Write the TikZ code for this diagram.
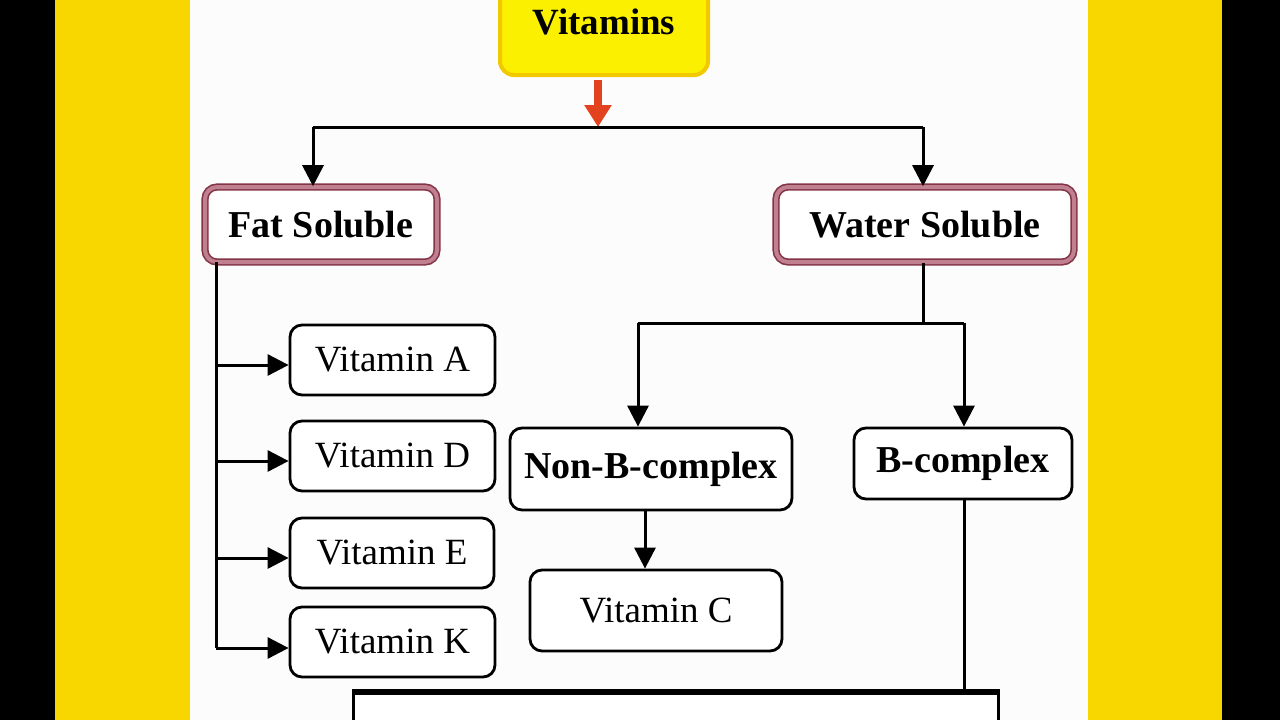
\documentclass[tikz,border=0pt]{standalone}
\usepackage{fontspec}
\setmainfont{Liberation Serif}
\usetikzlibrary{arrows.meta}
\definecolor{bandyellow}{HTML}{F8D600}
\definecolor{boxyellow}{HTML}{FAF000}
\definecolor{boxgold}{HTML}{F2C800}
\definecolor{maroon}{HTML}{833548}
\definecolor{pinkfill}{HTML}{C0808F}
\definecolor{redarrow}{HTML}{E2431E}
\tikzset{
  arr/.style={line width=3pt, -{Triangle[width=21pt,length=21pt]}},
  conn/.style={line width=3pt},
  leafbox/.style={draw=black, line width=2.8pt, rounded corners=12pt, fill=white,
    font=\fontsize{37}{40}\selectfont, inner sep=0pt},
  catbox/.style={draw=black, line width=2.8pt, rounded corners=12pt, fill=white,
    font=\fontsize{38}{40}\selectfont\bfseries, inner sep=0pt},
  solbox/.style={draw=maroon, double=pinkfill, double distance=4pt, line width=1.6pt,
    rounded corners=12pt, fill=white, font=\fontsize{38}{40}\selectfont\bfseries, inner sep=0pt},
}
\begin{document}
\begin{tikzpicture}[x=1pt,y=-1pt]
\useasboundingbox (0,0) rectangle (1280,720);
\clip (0,0) rectangle (1280,720);
% background bands
\fill[black] (0,0) rectangle (1280,720);
\fill[bandyellow] (55,0) rectangle (1222,720);
\fill[white!98!gray] (190,0) rectangle (1088,720);

% nodes
\node[draw=boxgold, line width=4pt, fill=boxyellow, rounded corners=14pt,
  minimum width=208pt, minimum height=105pt, inner sep=0pt] (vit) at (604,22.5) {};
\node[font=\fontsize{37}{40}\selectfont\bfseries] (vittxt) at (604,22) {Vitamins};

\node[solbox, minimum width=232pt, minimum height=75pt] (fs) at (321,224.5) {Fat Soluble};
\node[solbox, minimum width=298pt, minimum height=75pt] (ws) at (925,224.5) {Water Soluble};

\node[leafbox, minimum width=205pt, minimum height=70pt] (va) at (392.5,360) {Vitamin A};
\node[leafbox, minimum width=205pt, minimum height=70pt] (vd) at (392.5,456) {Vitamin D};
\node[leafbox, minimum width=204pt, minimum height=70pt] (ve) at (392,553) {Vitamin E};
\node[leafbox, minimum width=205pt, minimum height=70pt] (vk) at (392.5,642) {Vitamin K};

\node[catbox, minimum width=282pt, minimum height=82pt] (nonb) at (651,469) {Non-B-complex};
\node[catbox, minimum width=218pt, minimum height=71pt] (bc) at (963,463.5) {B-complex};
\node[leafbox, minimum width=252pt, minimum height=81pt] (vitc) at (656,610.5) {Vitamin C};

\node[draw=black, line width=3pt, fill=white, minimum width=645pt, minimum height=67pt,
  inner sep=0pt] (bottom) at (675.5,726.5) {};
\draw[line width=5pt] (bottom.north west) -- (bottom.north east);

% red arrow
\coordinate (j) at (598,127);
\draw[redarrow, line width=8pt, -{Triangle[width=26pt,length=22pt]}] (598,80) -- (j);

% top split
\coordinate (jl) at (313,127);
\coordinate (jr) at (923,127);
\draw[conn] (jl) -- (jr);
\draw[arr] (jl) -- (jl |- fs.north);
\draw[arr] (jr) -- (jr |- ws.north);

% fat soluble branch
\coordinate (fl) at (216,262);
\coordinate (fe) at (216,648);
\draw[conn] (fl) -- (fe);
\draw[arr] ([yshift=-5pt]fl |- va.west) -- ([yshift=-5pt]va.west);
\draw[arr] ([yshift=-5pt]fl |- vd.west) -- ([yshift=-5pt]vd.west);
\draw[arr] ([yshift=-5pt]fl |- ve.west) -- ([yshift=-5pt]ve.west);
\draw[arr] ([yshift=-6pt]fl |- vk.west) -- ([yshift=-6pt]vk.west);

% water soluble branch
\coordinate (wj) at (923,323);
\coordinate (wl) at (638,323);
\coordinate (wr) at (964,323);
\draw[conn] (ws.south -| wj) -- (wj);
\draw[conn] (wl) -- (wr);
\draw[arr] (wl) -- (wl |- nonb.north);
\draw[arr] (wr) -- (wr |- bc.north);

% non-B to vitamin C
\coordinate (nc) at (645,510);
\draw[arr] (nc) -- (nc |- vitc.north);

% B-complex down
\draw[conn] (bc.south -| wr) -- (wr |- bottom.north);
\end{tikzpicture}
\end{document}
